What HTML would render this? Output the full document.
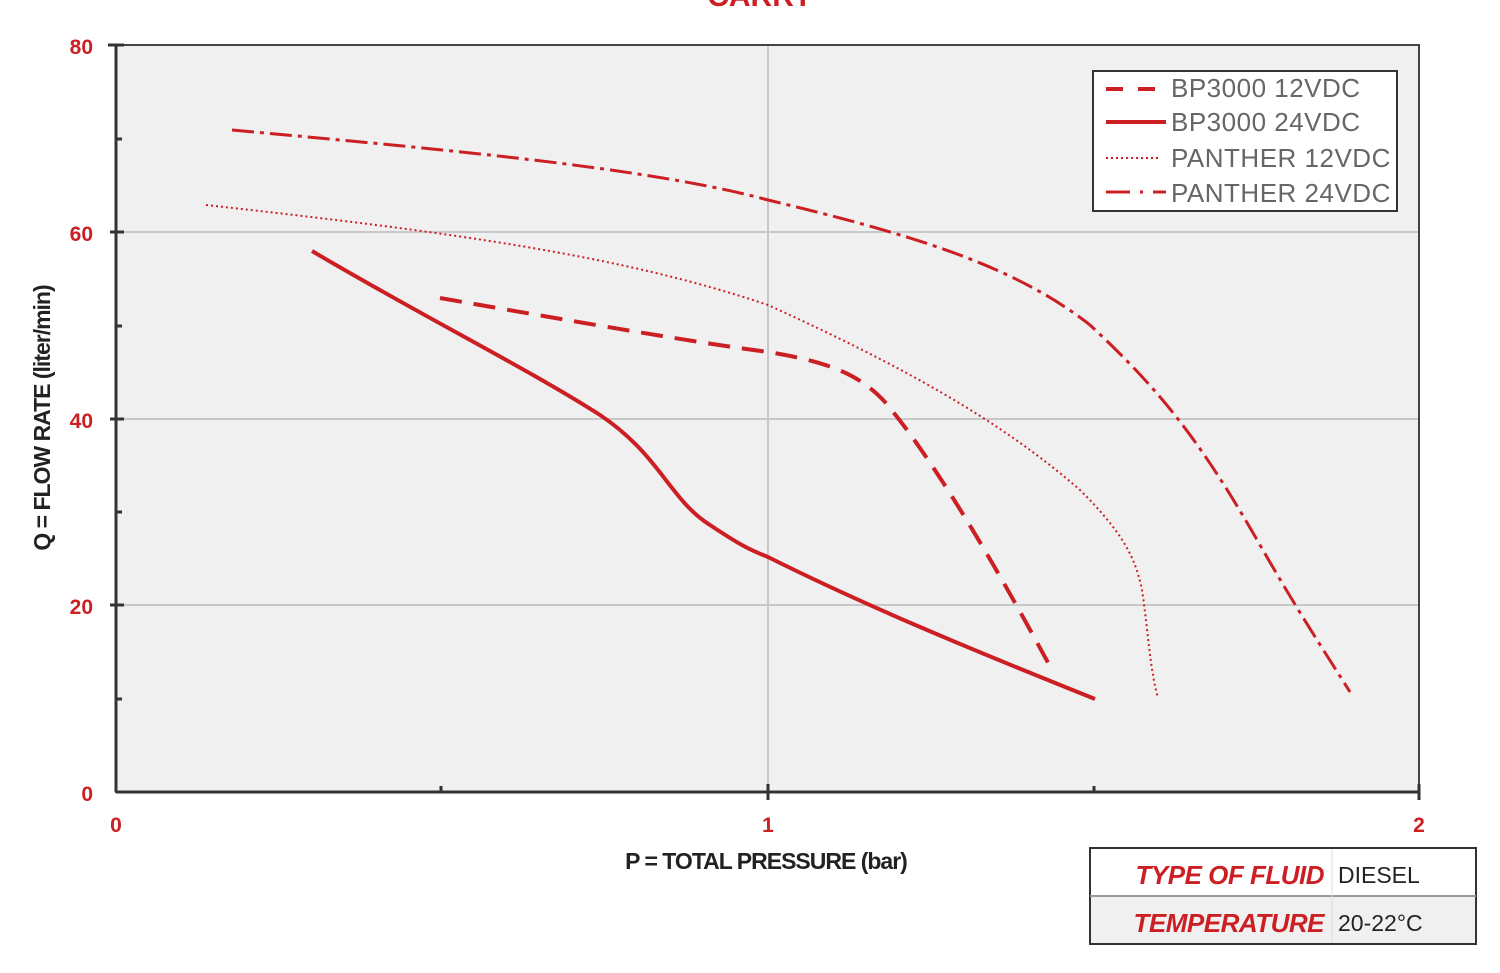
<!DOCTYPE html>
<html><head><meta charset="utf-8"><style>
html,body{margin:0;padding:0;background:#fff;}
svg{display:block;}
text{font-family:"Liberation Sans",sans-serif;}
</style></head><body>
<svg width="1500" height="973" viewBox="0 0 1500 973" xmlns="http://www.w3.org/2000/svg">
<text x="760" y="6" text-anchor="middle" font-size="30" font-weight="bold" fill="#cc1f24">CARRY</text>
<rect x="116" y="45" width="1303" height="747" fill="#f0f0f0"/>
<g stroke="#c8c8c8" stroke-width="2">
<line x1="116" y1="232" x2="1419" y2="232"/>
<line x1="116" y1="419" x2="1419" y2="419"/>
<line x1="116" y1="605" x2="1419" y2="605"/>
<line x1="768" y1="45" x2="768" y2="792"/>
</g>
<rect x="116" y="45" width="1303" height="747" fill="none" stroke="#444" stroke-width="2"/>
<g stroke="#333" stroke-width="3">
<line x1="116" y1="45" x2="116" y2="792"/>
<line x1="116" y1="792" x2="1419" y2="792"/>
<line x1="108" y1="45" x2="124" y2="45"/>
<line x1="110" y1="232" x2="124" y2="232"/>
<line x1="110" y1="419" x2="124" y2="419"/>
<line x1="110" y1="605" x2="124" y2="605"/>
<line x1="116" y1="139" x2="122" y2="139"/>
<line x1="116" y1="326" x2="122" y2="326"/>
<line x1="116" y1="512" x2="122" y2="512"/>
<line x1="116" y1="699" x2="122" y2="699"/>
<line x1="768" y1="784" x2="768" y2="800"/>
<line x1="1419" y1="784" x2="1419" y2="800"/>
<line x1="441" y1="786" x2="441" y2="792"/>
<line x1="1094" y1="786" x2="1094" y2="792"/>
</g>
<g fill="#cc1f24" font-size="21" font-weight="bold" text-anchor="end">
<text x="93" y="54">80</text><text x="93" y="241">60</text><text x="93" y="428">40</text><text x="93" y="614">20</text><text x="93" y="801">0</text>
</g>
<g fill="#cc1f24" font-size="21" font-weight="bold" text-anchor="middle">
<text x="116" y="832">0</text><text x="768" y="832">1</text><text x="1419" y="832">2</text>
</g>
<text x="766" y="869" text-anchor="middle" font-size="23" font-weight="bold" fill="#222" letter-spacing="-1">P = TOTAL PRESSURE (bar)</text>
<text transform="translate(50,418) rotate(-90)" text-anchor="middle" font-size="23" font-weight="bold" fill="#222" letter-spacing="-1">Q = FLOW RATE (liter/min)</text>
<g fill="none" stroke="#cc1f24" stroke-linejoin="round">
<path stroke-width="3" stroke-dasharray="22,6,4,6" d="M232,130 C450,150 650,168 768,200 C900,232 1010,262 1090,325 C1160,390 1200,440 1260,545 C1300,615 1330,660 1350,692"/>
<path stroke-width="2" stroke-dasharray="2,3" d="M206,205 C450,232 620,255 768,305 C900,365 1000,420 1080,490 C1120,530 1135,555 1142,590 C1148,630 1150,670 1158,698"/>
<path stroke-width="4" stroke-dasharray="22,12" d="M440,298 C600,326 700,343 768,352 C830,362 860,375 885,402 C930,455 990,555 1052,670"/>
<path stroke-width="4" d="M312,251 C420,315 530,370 600,415 C660,455 670,500 710,525 C740,545 750,550 768,557 C860,603 960,645 1095,699"/>
</g>
<rect x="1093" y="71" width="304" height="140" fill="#fff" stroke="#333" stroke-width="2"/>
<g stroke="#cc1f24">
<line x1="1106" y1="89" x2="1156" y2="89" stroke-width="4" stroke-dasharray="17,15"/>
<line x1="1106" y1="122" x2="1166" y2="122" stroke-width="4"/>
<line x1="1106" y1="158" x2="1160" y2="158" stroke-width="2" stroke-dasharray="2,3"/>
<line x1="1106" y1="192" x2="1166" y2="192" stroke-width="3" stroke-dasharray="24,10,3,10"/>
</g>
<g fill="#666" font-size="26" letter-spacing="0.5">
<text x="1171" y="97">BP3000 12VDC</text>
<text x="1171" y="131">BP3000 24VDC</text>
<text x="1171" y="167">PANTHER 12VDC</text>
<text x="1171" y="202">PANTHER 24VDC</text>
</g>
<rect x="1090" y="848" width="386" height="96" fill="#fff" stroke="#333" stroke-width="2"/>
<rect x="1091" y="896" width="384" height="47" fill="#f0f0f0"/>
<line x1="1090" y1="896" x2="1476" y2="896" stroke="#999" stroke-width="2"/>
<line x1="1332" y1="849" x2="1332" y2="943" stroke="#ddd" stroke-width="1"/>
<g font-size="26" font-weight="bold" font-style="italic" fill="#cc1f24" text-anchor="end" letter-spacing="-0.5">
<text x="1324" y="884">TYPE OF FLUID</text>
<text x="1324" y="932">TEMPERATURE</text>
</g>
<g font-size="23" fill="#222">
<text x="1338" y="883">DIESEL</text>
<text x="1338" y="931">20-22°C</text>
</g>
</svg>
</body></html>
